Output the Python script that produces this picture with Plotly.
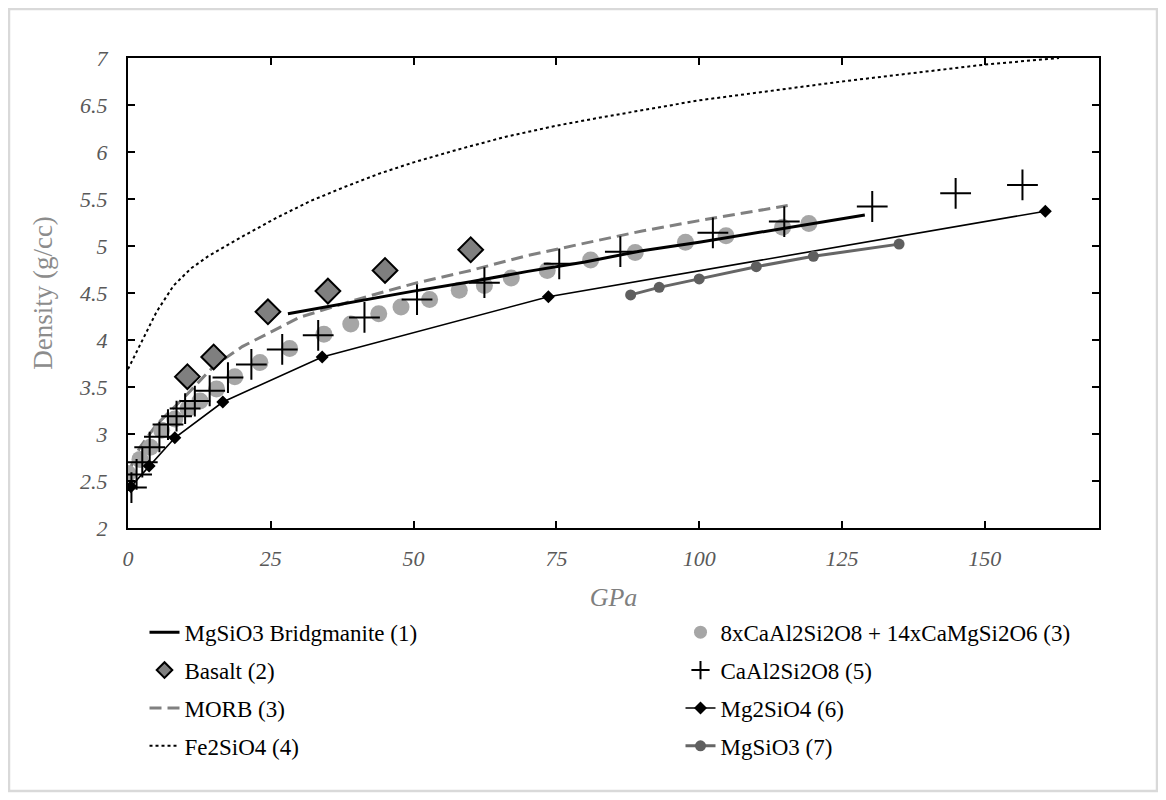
import plotly.graph_objects as go

# ---------------- data ----------------
brid_x = [28, 40, 50, 60, 70, 80, 90, 100, 110, 120, 129]
brid_y = [4.28, 4.41, 4.52, 4.62, 4.73, 4.83, 4.95, 5.04, 5.14, 5.24, 5.33]

basalt_x = [10.4, 15, 24.5, 35, 45, 60]
basalt_y = [3.61, 3.82, 4.30, 4.52, 4.74, 4.96]

morb_x = [0.5, 2, 5, 10, 15, 20, 30, 40, 50, 60, 70, 80, 90, 100, 110, 115.5]
morb_y = [2.65, 2.85, 3.10, 3.40, 3.72, 3.93, 4.24, 4.43, 4.60, 4.74, 4.90, 5.03, 5.16, 5.27, 5.37, 5.43]

fe2_x = [0, 2.5, 5, 8, 11, 14, 20, 26, 32, 38, 44, 50, 58, 66, 75, 83, 100, 125, 150, 163]
fe2_y = [3.69, 4.00, 4.30, 4.58, 4.76, 4.89, 5.10, 5.30, 5.48, 5.63, 5.77, 5.89, 6.03, 6.16, 6.28, 6.37, 6.55, 6.75, 6.93, 7.00]

mix_x = [0, 2.1, 3.9, 5.9, 8.2, 10.5, 12.6, 15.5, 18.7, 23.1, 28.3, 34.3, 39.0, 43.9,
         47.8, 52.8, 58.0, 62.4, 67.1, 73.4, 81.0, 88.8, 97.6, 104.7, 114.6, 119.2]
mix_y = [2.58, 2.73, 2.86, 3.04, 3.16, 3.27, 3.35, 3.48, 3.61, 3.76, 3.91, 4.06, 4.17, 4.28,
         4.35, 4.43, 4.53, 4.58, 4.66, 4.74, 4.85, 4.93, 5.04, 5.11, 5.20, 5.24]

caal_x = [0.6, 1.5, 2.5, 3.8, 5.5, 7.0, 8.5, 10.0, 11.7, 14.3, 17.5, 21.6, 27.0, 33.3,
          41.4, 50.6, 62.4, 75.5, 86.2, 102.4, 114.9, 130.3, 144.9, 156.6]
caal_y = [2.43, 2.57, 2.70, 2.86, 2.97, 3.10, 3.19, 3.27, 3.35, 3.46, 3.60, 3.74, 3.90, 4.05,
          4.24, 4.43, 4.61, 4.81, 4.94, 5.14, 5.26, 5.42, 5.56, 5.65]

mg2_x = [0.5, 3.7, 8.2, 16.6, 34.0, 73.6, 160.6]
mg2_y = [2.44, 2.66, 2.96, 3.34, 3.82, 4.46, 5.37]

mgsio3_x = [88, 93, 100, 110, 120, 135]
mgsio3_y = [4.48, 4.56, 4.65, 4.78, 4.89, 5.02]

x_ticks = [0, 25, 50, 75, 100, 125, 150]
y_ticks = [2, 2.5, 3, 3.5, 4, 4.5, 5, 5.5, 6, 6.5, 7]

FONT = "Liberation Serif, Times New Roman, serif"

W, H = 1158, 792
L, R, T, B = 120, 67, 50, 272
PW, PH = W - L - R, H - T - B

BASALT_MK = dict(symbol="diamond", color="#7f7f7f", line=dict(color="black", width=2))
MIX_MK = dict(symbol="circle", color="#a6a6a6")
CAAL_MK = dict(symbol="cross-thin", line=dict(color="black", width=2))

fig = go.Figure()

# ---- plotted data (big-marker series kept out of the legend; legend-only entries below) ----
fig.add_trace(go.Scatter(x=fe2_x, y=fe2_y, mode="lines", name="Fe2SiO4 (4)",
                         line=dict(color="black", width=2, dash="dot"),
                         legend="legend", legendrank=4, legendgroup="d"))
fig.add_trace(go.Scatter(x=morb_x, y=morb_y, mode="lines", name="MORB (3)",
                         line=dict(color="#808080", width=3, dash="12px,6px"),
                         legend="legend", legendrank=3, legendgroup="c"))
fig.add_trace(go.Scatter(x=mix_x, y=mix_y, mode="markers", showlegend=False,
                         marker=dict(size=17, **MIX_MK), legendgroup="e"))
fig.add_trace(go.Scatter(x=mg2_x, y=mg2_y, mode="lines+markers", name="Mg2SiO4 (6)",
                         line=dict(color="black", width=1.6),
                         marker=dict(symbol="diamond", size=10, color="black"),
                         legend="legend2", legendrank=3, legendgroup="g"))
fig.add_trace(go.Scatter(x=mgsio3_x, y=mgsio3_y, mode="lines+markers", name="MgSiO3 (7)",
                         line=dict(color="#666666", width=3),
                         marker=dict(symbol="circle", size=11, color="#5f5f5f"),
                         legend="legend2", legendrank=4, legendgroup="h"))
fig.add_trace(go.Scatter(x=brid_x, y=brid_y, mode="lines", name="MgSiO3 Bridgmanite (1)",
                         line=dict(color="black", width=3), legend="legend", legendrank=1,
                         legendgroup="a"))
fig.add_trace(go.Scatter(x=caal_x, y=caal_y, mode="markers", showlegend=False,
                         marker=dict(size=22, **CAAL_MK), legendgroup="f"))
fig.add_trace(go.Scatter(x=basalt_x, y=basalt_y, mode="markers", showlegend=False,
                         marker=dict(size=19, **BASALT_MK), legendgroup="b"))

# ---- legend-only entries with legend-sized symbols ----
fig.add_trace(go.Scatter(x=[None], y=[None], mode="markers", name="Basalt (2)",
                         marker=dict(size=12, **BASALT_MK), legend="legend", legendrank=2,
                         legendgroup="b"))
fig.add_trace(go.Scatter(x=[None], y=[None], mode="markers", name="8xCaAl2Si2O8 + 14xCaMgSi2O6 (3)",
                         marker=dict(size=13, **MIX_MK), legend="legend2", legendrank=1,
                         legendgroup="e"))
fig.add_trace(go.Scatter(x=[None], y=[None], mode="markers", name="CaAl2Si2O8 (5)",
                         marker=dict(size=13, **CAAL_MK), legend="legend2", legendrank=2,
                         legendgroup="f"))

axis_common = dict(showline=True, linecolor="black", linewidth=2, mirror="ticks",
                   ticks="inside", ticklen=7, tickwidth=2, tickcolor="black",
                   showgrid=False, zeroline=False)

fig.update_layout(
    width=W, height=H,
    margin=dict(l=L, r=R, t=T, b=B),
    paper_bgcolor="white", plot_bgcolor="white",
    font=dict(family=FONT, color="black"),
    xaxis=dict(range=[0, 170], tickvals=x_ticks, ticktext=[str(v) for v in x_ticks],
               tickfont=dict(family=FONT, size=22, color="#595959", style="italic"),
               title=dict(text="GPa", font=dict(family=FONT, size=26, color="#7f7f7f", style="italic"),
                          standoff=17),
               ticklabelstandoff=10,
               **axis_common),
    yaxis=dict(range=[2, 7], tickvals=y_ticks, ticktext=[f"{v:g}" for v in y_ticks],
               tickfont=dict(family=FONT, size=22, color="#595959", style="italic"),
               title=dict(text="Density (g/cc)", font=dict(family=FONT, size=27, color="#8c8c8c"),
                          standoff=19),
               ticklabelstandoff=14,
               **axis_common),
    legend=dict(x=0.017, y=-0.176, xanchor="left", yanchor="top", orientation="v",
                font=dict(family=FONT, size=23, color="black"), tracegroupgap=5,
                traceorder="grouped", bgcolor="rgba(0,0,0,0)"),
    legend2=dict(x=0.569, y=-0.176, xanchor="left", yanchor="top", orientation="v",
                 font=dict(family=FONT, size=23, color="black"), tracegroupgap=5,
                 traceorder="grouped", bgcolor="rgba(0,0,0,0)"),
    shapes=[dict(type="rect", xref="paper", yref="paper",
                 x0=(1 - L) / PW, x1=(1149 - L) / PW,
                 y0=(T + PH - 783) / PH, y1=(T + PH - 1) / PH,
                 line=dict(color="#d9d9d9", width=2.5), fillcolor="rgba(0,0,0,0)", layer="below")],
)

fig.write_html("out.html")
